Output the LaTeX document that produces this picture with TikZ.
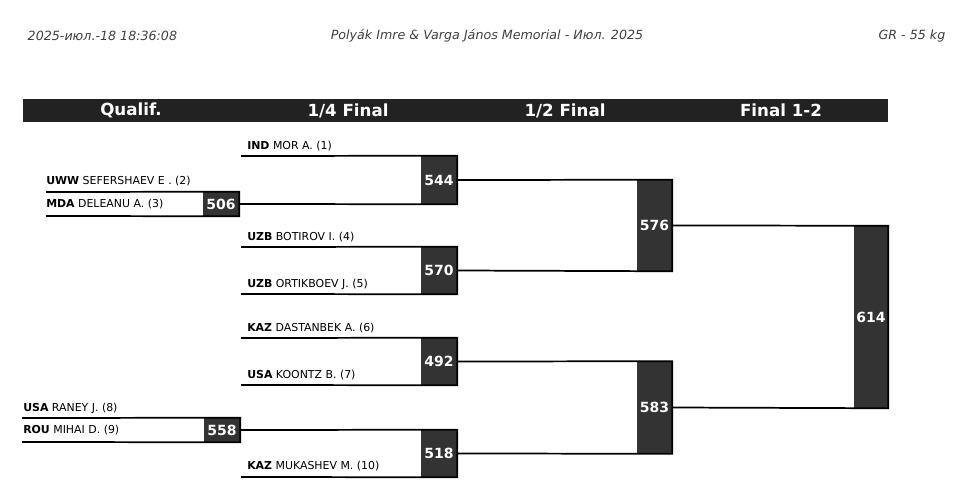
\documentclass[tikz,border=0pt]{standalone}
\usepackage{fontspec}
\setmainfont{DejaVu Sans}
\usetikzlibrary{positioning}
\definecolor{boxgray}{HTML}{333333}
\definecolor{bargray}{HTML}{222222}

\begin{document}
\begin{tikzpicture}[x=0.75pt,y=-0.75pt,
% styles
box/.style={rectangle, fill=boxgray, text=white, font=\bfseries\fontsize{10.5}{12}\selectfont, inner sep=0pt, minimum width=27pt},
head/.style={text=white, font=\bfseries\fontsize{12.5}{14}\selectfont},
player/.style={anchor=west, inner sep=0pt, font=\fontsize{8.2}{10}\selectfont},
stamp/.style={font=\itshape\fontsize{9.5}{11}\selectfont, text=black!75},
wire/.style={line width=1.3pt},
]
\useasboundingbox (0,0) rectangle (973,495);

% header
\node[stamp, anchor=west] (date) at (23,36) {2025-июл.-18 18:36:08};
\node[stamp] (title) at (487,36) {Polyák Imre \& Varga János Memorial - Июл. 2025};
\node[stamp, anchor=east] (cat) at (950,36) {GR - 55 kg};
\fill[bargray] (23,99) rectangle (888,122);
\node[head] (h1) at (131,110.5) {Qualif.};
\node[head] (h2) at (348,110.5) {1/4 Final};
\node[head] (h3) at (565,110.5) {1/2 Final};
\node[head] (h4) at (781,110.5) {Final 1-2};

% match boxes
\node[box, minimum height=18pt] (q506) at (221,204) {506};
\node[box, minimum height=18pt] (q558) at (222,430) {558};
\node[box, minimum height=36pt] (m544) at (439,180) {544};
\node[box, minimum height=35.25pt] (m570) at (439,270.5) {570};
\node[box, minimum height=35.25pt] (m492) at (439,361.5) {492};
\node[box, minimum height=35.25pt] (m518) at (439,453.5) {518};
\node[box, minimum width=26.25pt, minimum height=68.25pt] (s576) at (654.5,225.5) {576};
\node[box, minimum width=26.25pt, minimum height=69pt] (s583) at (654.5,407.5) {583};
\node[box, minimum width=25.5pt, minimum height=136.5pt] (f614) at (871,317) {614};

% players
\node[player] (n1) at (247,146) {\textbf{IND} MOR A. (1)};
\node[player] (n2) at (46,181) {\textbf{UWW} SEFERSHAEV E . (2)};
\node[player] (n3) at (46,204) {\textbf{MDA} DELEANU A. (3)};
\node[player] (n4) at (247,237) {\textbf{UZB} BOTIROV I. (4)};
\node[player] (n5) at (247,284) {\textbf{UZB} ORTIKBOEV J. (5)};
\node[player] (n6) at (247,328) {\textbf{KAZ} DASTANBEK A. (6)};
\node[player] (n7) at (247,375) {\textbf{USA} KOONTZ B. (7)};
\node[player] (n8) at (23,408) {\textbf{USA} RANEY J. (8)};
\node[player] (n9) at (23,430) {\textbf{ROU} MIHAI D. (9)};
\node[player] (n10) at (247,466) {\textbf{KAZ} MUKASHEV M. (10)};

% lines
\coordinate (c2) at (46,192);
\coordinate (c3) at (46,216);
\coordinate (c8) at (22,418);
\coordinate (c9) at (22,442);
\coordinate (c1) at (241,156);
\coordinate (c4) at (241,247);
\coordinate (c5) at (241,294);
\coordinate (c6) at (241,338);
\coordinate (c7) at (241,385);
\coordinate (c10) at (241,477);
\draw[wire] (c2) -- (q506.north east) -- (q506.south east) -- (c3);
\draw[wire] (c8) -- (q558.north east) -- (q558.south east) -- (c9);
\draw[wire] (c1) -- (m544.north east) -- (m544.south east) -- (q506.east);
\draw[wire] (c4) -- (m570.north east) -- (m570.south east) -- (c5);
\draw[wire] (c6) -- (m492.north east) -- (m492.south east) -- (c7);
\draw[wire] (q558.east) -- (m518.north east) -- (m518.south east) -- (c10);
\draw[wire] (m544.east) -- (s576.north east) -- (s576.south east) -- (m570.east);
\draw[wire] (m492.east) -- (s583.north east) -- (s583.south east) -- (m518.east);
\draw[wire] (s576.east) -- (f614.north east) -- (f614.south east) -- (s583.east);
\end{tikzpicture}
\end{document}
